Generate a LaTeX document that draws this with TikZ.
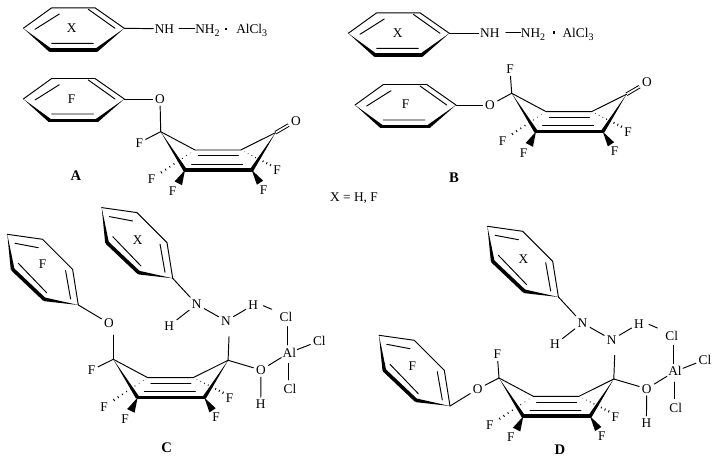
\documentclass[tikz,border=0pt]{standalone}
\usepackage{fontspec}
\setmainfont{Liberation Serif}
\usetikzlibrary{calc}
\newcommand\lowsub[1]{\raisebox{-2.4pt}{\fontsize{7.5}{8}\selectfont #1}}
\tikzset{
  atom/.style={font=\fontsize{10}{12}\selectfont,inner sep=1.8pt,text height=6.6pt,text depth=0pt},
  tag/.style={font=\fontsize{11}{13}\selectfont\bfseries,inner sep=0pt},
  freetext/.style={font=\fontsize{10}{12}\selectfont,inner sep=0pt,anchor=west,text height=6.6pt,text depth=0pt},
  bond/.style={line width=0.72pt,line cap=round},
  heavy/.style={line width=2.7pt,line cap=round},
}
% tapered bond: thin at #1, wide (#3) at #2
\newcommand\taper[3]{\fill ($(#2)!#3!90:(#1)$) -- ($(#2)!#3!-90:(#1)$) -- (#1) -- cycle;}
% hashed bond from #1 to #2
\newcommand\hashbond[2]{\foreach \t in {0.12,0.24,...,1.0}{
  \draw[line width=0.65pt] ($(#1)!\t!(#2)!0.95pt*\t!90:(#2)$) -- ($(#1)!\t!(#2)!0.95pt*\t!-90:(#2)$);}}
\newcommand\flatring[3]{\begin{scope}[shift={(#2,#3)},name prefix=#1-]
  \coordinate (ipso) at (0,0);
  \coordinate (l) at (-101,0);
  \coordinate (tl) at (-72.6,-20.5);
  \coordinate (tr) at (-29.3,-20.5);
  \coordinate (br) at (-27.6,21.7);
  \coordinate (bl) at (-74.3,21.7);
  \draw[bond] (l) -- (tl) -- (tr) -- (ipso);
  \taper{l}{bl}{1.4pt}\taper{ipso}{br}{1.4pt}
  \draw[heavy] (bl) -- (br);
  \coordinate (i1a) at (-89.3,1); \coordinate (i1b) at (-65,-14.3);
  \coordinate (i2a) at (-36,-19); \coordinate (i2b) at (-9.3,0);
  \coordinate (i3a) at (-72.6,15); \coordinate (i3b) at (-31,15);
  \draw[bond] (i1a) -- (i1b) (i2a) -- (i2b) (i3a) -- (i3b);
\end{scope}}
\newcommand\tiltring[3]{\begin{scope}[shift={(#2,#3)},name prefix=#1-]
  \coordinate (ipso) at (0,0);
  \coordinate (tl) at (-71,-70.7);
  \coordinate (tr) at (-35.7,-65.7);
  \coordinate (r) at (-5.7,-35.7);
  \coordinate (br) at (-34,-5.7);
  \coordinate (bl) at (-65.7,-35.7);
  \draw[bond] (tl) -- (tr) -- (r) -- (ipso);
  \taper{tl}{bl}{1.4pt}\taper{ipso}{br}{1.4pt}
  \draw[heavy] (bl) -- (br);
  \coordinate (i1a) at (-63.3,-61.7); \coordinate (i1b) at (-40,-57.3);
  \coordinate (i2a) at (-12.7,-34.3); \coordinate (i2b) at (-7.7,-6);
  \coordinate (i3a) at (-60,-41.7); \coordinate (i3b) at (-31.7,-12.3);
  \draw[bond] (i1a) -- (i1b) (i2a) -- (i2b) (i3a) -- (i3b);
\end{scope}}
% fluorinated ring core, origin at C4; #4 = draw C=O (1) or not (0)
\newcommand\core[4]{\begin{scope}[shift={(#2,#3)},name prefix=#1-]
  \coordinate (c4) at (0,0);
  \coordinate (c3) at (34.3,18.3);
  \coordinate (c2) at (80,18.3);
  \coordinate (c1) at (114.8,1);
  \coordinate (r) at (91,38.3);
  \coordinate (q) at (24.3,38.3);
  \coordinate (h1) at (-0.7,41.6);
  \coordinate (h2) at (111,34);
  \coordinate (w1) at (17.6,51.6);
  \coordinate (w2) at (99.3,51);
  \coordinate (d1a) at (37.6,24); \coordinate (d1b) at (77.6,24);
  \coordinate (d2a) at (31,32.6); \coordinate (d2b) at (82,32.6);
  \ifnum#4=1
    \node[atom] (ox) at (135.3,-11) {O};
    \draw[bond,double,double distance=1.3pt,line cap=butt] (c1) -- (ox);
  \fi
  \draw[bond] (c4) -- (c3) -- (c2) -- (c1);
  \draw[bond] (d1a) -- (d1b) (d2a) -- (d2b);
  \taper{c4}{q}{1.4pt}\taper{c1}{r}{1.4pt}
  \draw[heavy] (q) -- (r);
  \hashbond{c3}{h1}\hashbond{c2}{h2}
  \taper{q}{w1}{3.1pt}\taper{r}{w2}{2.8pt}
  \node[atom] (f1) at (-9.2,47.4) {F};
  \node[atom] (f2) at (11.9,59.5) {F};
  \node[atom] (f3) at (116.4,38.8) {F};
  \node[atom] (f4) at (102.8,58) {F};
\end{scope}}
% hydrazine-AlCl3 part, written in the coordinates of C
\newcommand\adduct[4]{\begin{scope}[shift={(#2,#3)},name prefix=#1-]
  \tiltring{xr}{172.7}{278.3}
  \node[atom] (xl) at (137.7,240) {X};
  \node[atom] (n2) at (196.7,304.3) {N};
  \node[atom] (n1) at (226,321) {N};
  \node[atom] (h2) at (169.3,325.7) {H};
  \node[atom] (h1) at (253.3,305) {H};
  \node[atom] (ox) at (261,370) {O};
  \node[atom] (hx) at (260.7,404.3) {H};
  \node[atom,inner sep=0.8pt] (al) at (289.3,352.7) {Al};
  \node[atom] (cl1) at (286,317.3) {Cl};
  \node[atom] (cl2) at (319.3,341) {Cl};
  \node[atom] (cl3) at (290,389) {Cl};
  \coordinate (hc) at (271.7,309.3);
  \coordinate (hs) at (263.3,305.7);
  \coordinate (nb) at (229,336.7);
  \coordinate (a1t) at (287.3,326.7);
  \coordinate (a1b) at (287.3,345);
  \coordinate (a3t) at (288.3,363.3);
  \coordinate (a3b) at (288.3,380);
  \draw[bond] (xr-ipso) -- (n2);
  \draw[bond] (n2) -- (n1);
  \draw[bond] (n2) -- (h2);
  \draw[bond] (n1) -- (h1);
  \draw[bond] (nb) -- (#4-c1);
  \draw[bond] (#4-c1) -- (ox);
  \draw[bond] (ox) -- (hx);
  \draw[bond] (ox) -- (al);
  \draw[bond] (a1t) -- (a1b);
  \draw[bond] (al) -- (cl2);
  \draw[bond] (a3t) -- (a3b);
  \draw[bond] (hs) -- (hc);
\end{scope}}
\begin{document}
\begin{tikzpicture}[x=0.75pt,y=-0.75pt]
\useasboundingbox (0,0) rectangle (715,459);
\fill[white] (0,0) rectangle (715,459);
% ---------- A
\flatring{ax}{124.3}{28.3}
\node[atom] (axl) at (71.7,28.5) {X};
\node[atom,inner sep=1pt] (anh) at (164.5,28.8) {NH};
\draw[bond] (ax-ipso) -- (anh);
\node[freetext] (anh2) at (195,28.8) {NH\lowsub{2}};
\draw[bond] (anh) ++(14.5,0) coordinate (ad1) (anh2.west) coordinate (ad2) (ad1) -- (ad2);
\fill (224.7,27.6) rectangle (227.4,30.3);
\node[freetext] (aal) at (236,28.8) {AlCl\lowsub{3}};
\flatring{af}{124.3}{99}
\node[atom] (afl) at (71.7,99) {F};
\core{ac}{160.7}{131.7}{1}
\node[atom] (ao) at (160,99) {O};
\node[atom] (af5) at (139.3,142.7) {F};
\draw[bond] (af-ipso) -- (ao);
\draw[bond] (ao) -- (ac-c4);
\draw[bond] (ac-c4) -- (af5);
\node[tag] (la) at (76,175.7) {A};
% ---------- B
\flatring{bx}{449.3}{33.3}
\node[atom] (bxl) at (397.7,33.3) {X};
\node[atom,inner sep=1pt] (bnh) at (489.8,33.3) {NH};
\draw[bond] (bx-ipso) -- (bnh);
\node[freetext] (bnh2) at (520.7,33.3) {NH\lowsub{2}};
\draw[bond] (bnh) ++(16,-1) coordinate (bd1) (bnh2.west) ++(0,-1) coordinate (bd2) (bd1) -- (bd2);
\fill (552.7,31) rectangle (555.4,33.7);
\node[freetext] (bal) at (562.3,33.3) {AlCl\lowsub{3}};
\flatring{bf}{456}{105}
\node[atom] (bfl) at (405.7,104) {F};
\core{bc}{511.7}{93.3}{1}
\node[atom] (bo) at (490,105) {O};
\node[atom] (bf5) at (510,69.3) {F};
\draw[bond] (bf-ipso) -- (bo);
\draw[bond] (bo) -- (bc-c4);
\draw[bond] (bc-c4) -- (bf5);
\node[tag] (lb) at (454,177.7) {B};
% ---------- legend
\node[atom] (leg) at (354,197) {X = H, F};
% ---------- C
\tiltring{cf}{78.3}{305}
\node[atom] (cfl) at (42.7,264.3) {F};
\core{cc}{113.3}{359.3}{0}
\node[atom] (co) at (109,323.3) {O};
\node[atom] (cf5) at (91.7,370) {F};
\draw[bond] (cf-ipso) -- (co);
\coordinate (cv) at (113.3,335);
\draw[bond] (cv) -- (cc-c4);
\draw[bond] (cc-c4) -- (cf5);
\adduct{cn}{0}{0}{cc}
\node[tag] (lc) at (166.7,447.3) {C};
% ---------- D
\tiltring{df}{450}{406}
\node[atom] (dfl) at (412.3,366) {F};
\core{dc}{499}{378}{0}
\node[atom] (do) at (477.7,389) {O};
\node[atom] (df5) at (497.3,354.3) {F};
\draw[bond] (df-ipso) -- (do);
\draw[bond] (do) -- (dc-c4);
\draw[bond] (dc-c4) -- (df5);
\adduct{dn}{385.7}{18.7}{dc}
\node[tag] (ld) at (560,449.3) {D};
\end{tikzpicture}
\end{document}
